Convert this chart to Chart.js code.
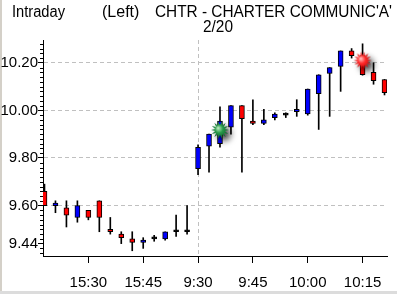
<!DOCTYPE html>
<html>
<head>
<meta charset="utf-8">
<script src="https://cdn.jsdelivr.net/npm/chart.js@4.4.1/dist/chart.umd.min.js"></script>
<style>
    html, body { margin: 0; padding: 0; background: #fff; }
    #wrap { width: 397px; height: 294px; }
</style>
</head>
<body>
<div id="wrap"><canvas id="intradayChart" width="397" height="294"></canvas></div>
<script>
// Candle data (3 minute bars, previous session tail + today's open)
const times = ['15:18', '15:21', '15:24', '15:27', '15:30', '15:33', '15:36', '15:39', '15:42', '15:45',
    '15:48', '15:51', '15:54', '15:57', '9:30', '9:33', '9:36', '9:39', '9:42', '9:45',
    '9:48', '9:51', '9:54', '9:57', '10:00', '10:03', '10:06', '10:09', '10:12', '10:15',
    '10:18', '10:21'];
const opens = [9.66, 9.60, 9.59, 9.55, 9.58, 9.62, 9.50, 9.48, 9.46, 9.445,
    9.46, 9.46, 9.49, 9.49, 9.755, 9.85, 9.86, 9.93, 10.02, 9.955,
    9.945, 9.97, 9.98, 9.995, 9.985, 10.07, 10.155, 10.185, 10.25, 10.23,
    10.16, 10.13];
const highs = [9.69, 9.62, 9.62, 9.62, 9.58, 9.62, 9.55, 9.49, 9.49, 9.465,
    9.475, 9.49, 9.56, 9.60, 9.855, 9.90, 10.015, 10.02, 10.02, 10.045,
    10.005, 9.99, 9.99, 10.045, 10.09, 10.15, 10.18, 10.25, 10.26, 10.28,
    10.20, 10.13];
const lows = [9.60, 9.57, 9.51, 9.53, 9.54, 9.49, 9.48, 9.44, 9.41, 9.42,
    9.45, 9.455, 9.47, 9.48, 9.73, 9.74, 9.845, 9.90, 9.74, 9.94,
    9.94, 9.96, 9.97, 9.975, 9.98, 9.92, 9.975, 10.08, 10.22, 10.148,
    10.11, 10.065];
const closes = [9.60, 9.61, 9.56, 9.60, 9.55, 9.55, 9.49, 9.465, 9.445, 9.455,
    9.46, 9.49, 9.49, 9.49, 9.845, 9.90, 9.955, 10.02, 9.965, 9.945,
    9.96, 9.985, 9.98, 10.005, 10.09, 10.15, 10.18, 10.25, 10.23, 10.15,
    10.125, 10.075];

// Signal markers (buy = green, sell = red)
const signalIdx = [16, 29];
const signalPrice = [9.918, 10.21];
const signalKind = ['buy', 'sell'];

// Axis labels
const xTickLabels = ['15:30', '15:45', '9:30', '9:45', '10:00', '10:15'];
const sessionStart = '9:30';
const yLabelled = [9.44, 9.60, 9.80, 10.00, 10.20];
const yGridded = [9.60, 9.80, 10.00, 10.20];
const yMinorStep = 0.02;
const yMin = 9.388;
const yMax = 10.296;

const UP = '#0000ff';
const DOWN = '#ff0000';
const FONT = "'Liberation Sans', Arial, sans-serif";

const round2 = v => Math.round(v * 1000) / 1000;
const inList = (list, v) => list.some(x => Math.abs(x - v) < 1e-6);

// Spiky marker drawn once into a small canvas, used as pointStyle
function makeStar(c0, c1, c2) {
    const c = document.createElement('canvas');
    c.width = 36;
    c.height = 36;
    const g = c.getContext('2d');
    const cx = 18, cy = 18;
    g.shadowColor = 'rgba(0,0,0,0.75)';
    g.shadowBlur = 6;
    g.shadowOffsetX = 4;
    g.shadowOffsetY = 4;
    g.beginPath();
    const spikes = 14;
    for (let k = 0; k < spikes * 2; k++) {
        const r = k % 2 ? 5 : 9;
        const a = Math.PI * k / spikes;
        g.lineTo(cx + r * Math.cos(a), cy + r * Math.sin(a));
    }
    g.closePath();
    const grad = g.createRadialGradient(cx - 2, cy - 2, 0, cx, cy, 9);
    grad.addColorStop(0, c0);
    grad.addColorStop(0.45, c1);
    grad.addColorStop(1, c2);
    g.fillStyle = grad;
    g.fill();
    return c;
}
const starImg = {
    buy: makeStar('#c8f0c8', '#2a9a4a', '#0a5a2a'),
    sell: makeStar('#ffd0d0', '#ff2a2a', '#c00000')
};

// Build datasets from the arrays
const bodyData = times.map((t, i) => ({ x: i, y: [opens[i], closes[i]] }));
const bodyColors = times.map((t, i) => closes[i] > opens[i] ? UP : (closes[i] < opens[i] ? DOWN : '#000'));
const wickData = times.map((t, i) => ({ x: i, y: [lows[i], highs[i]] }));
const signalData = signalIdx.map((x, i) => ({ x: x, y: signalPrice[i] }));
const xTickIdx = xTickLabels.map(l => times.indexOf(l));

const yTickValues = [];
for (let v = 9.40; v <= yMax; v += yMinorStep) yTickValues.push(round2(v));

// Page frame + white background
const framePlugin = {
    id: 'frame',
    beforeDraw(chart) {
        const ctx = chart.ctx;
        ctx.save();
        ctx.fillStyle = '#fff';
        ctx.fillRect(0, 0, chart.width, chart.height);
        ctx.fillStyle = '#d4d0c8';
        ctx.fillRect(0, 0, 2, chart.height);
        ctx.fillStyle = '#dcdcdc';
        ctx.fillRect(0, 291, chart.width, 3);
        ctx.restore();
    }
};

// Header texts
const headerPlugin = {
    id: 'header',
    afterDraw(chart) {
        const ctx = chart.ctx;
        ctx.save();
        ctx.fillStyle = '#000';
        ctx.font = '16px ' + FONT;
        ctx.textBaseline = 'alphabetic';
        ctx.fillText('Intraday', 12, 17, 53);
        ctx.fillText('(Left)', 102, 17, 38);
        ctx.fillText("CHTR - CHARTER COMMUNIC'A'", 155, 17, 237);
        ctx.fillText('2/20', 203, 32, 30);
        ctx.restore();
    }
};

// Short minor ticks on the price axis
const minorTicksPlugin = {
    id: 'minorTicks',
    afterDraw(chart) {
        const scale = chart.scales.y;
        const ctx = chart.ctx;
        const left = chart.chartArea.left;
        ctx.save();
        ctx.strokeStyle = '#000';
        ctx.lineWidth = 1;
        ctx.beginPath();
        scale.ticks.forEach(t => {
            if (inList(yLabelled, t.value)) return;
            const y = Math.round(scale.getPixelForValue(t.value)) + 0.5;
            ctx.moveTo(left - 3, y);
            ctx.lineTo(left, y);
        });
        ctx.stroke();
        ctx.restore();
    }
};

new Chart(document.getElementById('intradayChart'), {
    type: 'bar',
    data: {
        datasets: [
            {
                type: 'scatter',
                data: signalData,
                pointStyle: signalKind.map(k => starImg[k]),
                pointRadius: 9,
                order: 0
            },
            {
                data: bodyData,
                backgroundColor: bodyColors,
                borderColor: '#000',
                borderWidth: 1,
                borderSkipped: false,
                barThickness: 5,
                minBarLength: 2,
                grouped: false,
                order: 1
            },
            {
                data: wickData,
                backgroundColor: '#000',
                borderWidth: 0,
                barThickness: 1,
                grouped: false,
                order: 2
            }
        ]
    },
    options: {
        responsive: false,
        animation: false,
        devicePixelRatio: 1,
        layout: { padding: { top: 40, right: 9, bottom: 0, left: 0 } },
        plugins: {
            legend: { display: false },
            tooltip: { enabled: false },
            title: { display: false }
        },
        scales: {
            x: {
                type: 'linear',
                min: -0.136,
                max: 31.227,
                offset: false,
                afterBuildTicks: scale => { scale.ticks = xTickIdx.map(v => ({ value: v })); },
                afterFit: scale => { scale.height = 38; },
                ticks: {
                    autoSkip: false,
                    maxRotation: 0,
                    padding: 11,
                    color: '#000',
                    font: { family: FONT, size: 15 },
                    callback: v => times[v]
                },
                grid: {
                    offset: false,
                    tickLength: 7,
                    tickColor: '#000',
                    color: ctx => (ctx.tick && times[ctx.tick.value] === sessionStart) ? '#c0c0c0' : 'rgba(0,0,0,0)'
                },
                border: { display: true, color: '#000', width: 1, dash: [4, 3] }
            },
            y: {
                type: 'linear',
                min: yMin,
                max: yMax,
                afterBuildTicks: scale => { scale.ticks = yTickValues.map(v => ({ value: v })); },
                afterFit: scale => { scale.width = 43; },
                ticks: {
                    autoSkip: false,
                    padding: 0,
                    color: '#000',
                    font: { family: FONT, size: 15 },
                    callback: v => inList(yLabelled, v) ? v.toFixed(2) : ''
                },
                grid: {
                    tickLength: 5,
                    tickColor: ctx => (ctx.tick && inList(yLabelled, ctx.tick.value)) ? '#000' : 'rgba(0,0,0,0)',
                    color: ctx => (ctx.tick && inList(yGridded, ctx.tick.value)) ? '#c0c0c0' : 'rgba(0,0,0,0)'
                },
                border: { display: true, color: '#000', width: 1, dash: [4, 3] }
            }
        }
    },
    plugins: [framePlugin, headerPlugin, minorTicksPlugin]
});
</script>
</body>
</html>
